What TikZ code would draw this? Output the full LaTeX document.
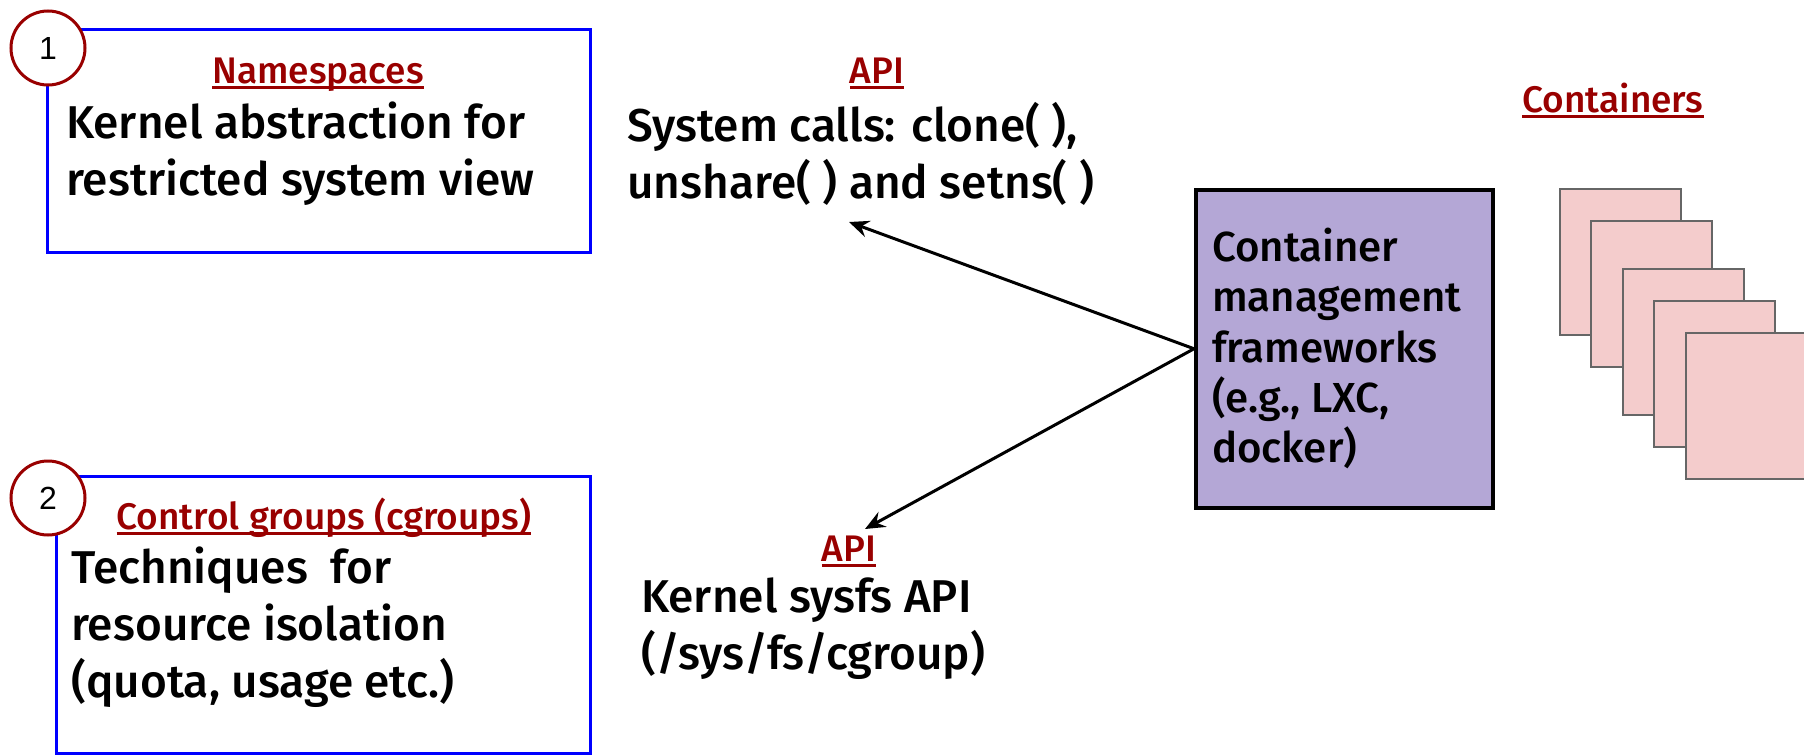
\documentclass[tikz,border=0pt]{standalone}
\usepackage{fontspec}
\setmainfont{Fira Sans}[UprightFont={* Medium}]
\newfontfamily\numfont{Liberation Sans}
\usetikzlibrary{arrows.meta}
\definecolor{dred}{HTML}{990000}
\definecolor{boxblue}{HTML}{0000FF}
\definecolor{purp}{HTML}{B4A7D6}
\definecolor{pinkc}{HTML}{F4CCCC}
\definecolor{grayb}{HTML}{666666}
\newcommand\ulred[1]{\setbox0=\hbox{#1}\rlap{\rule[-6pt]{\wd0}{3.5pt}}\box0}
\begin{document}
\begin{tikzpicture}[x=1pt,y=-1pt,
  bluebox/.style={draw=boxblue, line width=3pt, inner sep=0, anchor=north west},
  numcirc/.style={circle, draw=dred, line width=3pt, fill=white, minimum size=74pt, inner sep=0, font=\numfont\fontsize{32}{32}\selectfont},
  titletext/.style={text=dred, font=\fontsize{37}{37}\selectfont, inner sep=0, anchor=base},
  bodytext/.style={font=\fontsize{46}{57}\selectfont, align=left, inner sep=0, anchor=north west},
  mgmttext/.style={font=\fontsize{42}{50.3}\selectfont, align=left, inner sep=0, anchor=north west},
  ctrbox/.style={draw=grayb, line width=2pt, fill=pinkc, minimum width=121pt, minimum height=146pt, inner sep=0, anchor=north west},
  arr/.style={-{Stealth[length=20pt,width=17pt,inset=7pt]}, line width=3pt}]
\useasboundingbox (0,0) rectangle (1804,755);
\fill[white] (0,0) rectangle (1804,755);

% box 1
\node[bluebox, minimum width=543pt, minimum height=223pt] (ns) at (46,28) {};
\node[numcirc] (c1) at (48,48) {1};
\node[titletext] (nstitle) at (318,83) {\ulred{Namespaces}};
\node[bodytext] (nsbody) at (66,102) {Kernel abstraction for\\restricted system view};

% box 2
\node[bluebox, minimum width=534pt, minimum height=277pt] (cg) at (55,475) {};
\node[numcirc] (c2) at (48,498) {2};
\node[titletext] (cgtitle) at (324,529) {\ulred{Control groups (cgroups)}};
\node[bodytext] (cgbody) at (71,547) {Techniques~ for\\resource isolation\\(quota, usage etc.)};

% API top
\node[titletext] (api1) at (877,83) {\ulred{API}};
\node[bodytext] (sys) at (627,102) {System calls: clone( ),\\unshare( ) and setns( )};

% API bottom
\node[titletext] (api2) at (849,561) {\ulred{API}};
\node[bodytext] (sysfs) at (641,578) {Kernel sysfs API\\(/sys/fs/cgroup)};

% container management
\node[draw=black, fill=purp, line width=3.5pt, minimum width=297pt, minimum height=318pt, inner sep=0, anchor=north west] (cm) at (1194,188) {};
\node[mgmttext] (cmtext) at (1212,228) {Container\\management\\frameworks\\(e.g., LXC,\\docker)};

% containers
\node[titletext] (ctitle) at (1613,112) {\ulred{Containers}};
\node[ctrbox] (k1) at (1559,188) {};
\node[ctrbox] (k2) at (1590,220) {};
\node[ctrbox] (k3) at (1622,268) {};
\node[ctrbox] (k4) at (1653,300) {};
\node[ctrbox] (k5) at (1685,332) {};

% arrows
\coordinate (a1) at (849,222);
\coordinate (a2) at (865,529);
\draw[arr] (cm.west) -- (a1);
\draw[arr] (cm.west) -- (a2);
\end{tikzpicture}
\end{document}
